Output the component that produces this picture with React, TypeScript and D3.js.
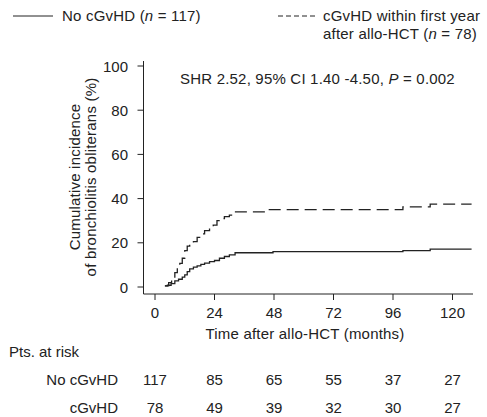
import React from 'react';
import * as d3 from 'd3';

// cumulative incidence steps (months, %)
const noCgvhdMonths = [4, 5, 6.5, 8, 9.5, 11, 12, 13, 14, 15.5, 17, 18.5, 20, 22, 24, 26, 28, 30, 32.3, 47.6, 100, 111, 127.7];
const noCgvhdValues = [0.5, 0.8, 1.5, 2.8, 3.5, 4.5, 5.5, 7, 8.2, 9, 9.6, 10.2, 10.8, 11.5, 12, 13, 13.8, 14.5, 15.5, 16, 16.5, 17.1, 17.1];
const cgvhdMonths = [4, 5.5, 6.7, 8, 9, 10, 11, 12, 13, 14, 15.5, 17, 18.5, 20, 22, 23.5, 25, 26.5, 28, 30, 31.6, 45, 100, 111, 127.7];
const cgvhdValues = [0.5, 2, 4, 6.5, 8.5, 10.7, 13, 16.5, 18.5, 20, 20.5, 22.5, 24, 25.5, 27, 28, 30, 31, 31.8, 32.5, 34, 35, 36.3, 37.5, 37.5];

const xTicks = [0, 24, 48, 72, 96, 120];
const yTicks = [0, 20, 40, 60, 80, 100];
const riskNo = [117, 85, 65, 55, 37, 27];
const riskCg = [78, 49, 39, 32, 30, 27];

const font = 'Liberation Sans, Arial, Helvetica, sans-serif';
const ink = '#222';
const fs = 15;

export default function App() {
  const x = d3.scaleLinear().domain([0, 120]).range([155, 452.5]);
  const y = d3.scaleLinear().domain([0, 100]).range([287, 66]);
  const line = d3
    .line<[number, number]>()
    .x((d) => x(d[0]))
    .y((d) => y(d[1]))
    .curve(d3.curveStepAfter);

  const noPts = noCgvhdMonths.map((m, i) => [m, noCgvhdValues[i]] as [number, number]);
  const cgPts = cgvhdMonths.map((m, i) => [m, cgvhdValues[i]] as [number, number]);

  const axisY = 294;
  const axisX = 143.5;

  return (
    <svg width={487} height={417} style={{ position: 'absolute', left: 0, top: 0, background: '#fff' }} fontFamily={font} fill={ink}>
      {/* legend */}
      <line x1={13} x2={53} y1={16} y2={16} stroke={ink} strokeWidth={1} />
      <text x={62} y={21} fontSize={fs} letterSpacing={0.2}>
        No cGvHD (<tspan fontStyle="italic">n</tspan> = 117)
      </text>
      <line x1={278} x2={318} y1={16} y2={16} stroke={ink} strokeWidth={1} strokeDasharray="5,3" />
      <text x={323} y={21} fontSize={fs} letterSpacing={0.2}>cGvHD within first year</text>
      <text x={323} y={39} fontSize={fs} letterSpacing={0.2}>
        after allo-HCT (<tspan fontStyle="italic">n</tspan> = 78)
      </text>

      {/* axes */}
      <line x1={axisX} x2={axisX} y1={61} y2={axisY} stroke={ink} />
      <line x1={axisX} x2={473} y1={axisY} y2={axisY} stroke={ink} />
      {yTicks.map((t) => (
        <g key={t}>
          <line x1={axisX - 6} x2={axisX} y1={y(t)} y2={y(t)} stroke={ink} />
          <text x={128} y={y(t)} fontSize={fs} textAnchor="end" dominantBaseline="central">
            {t}
          </text>
        </g>
      ))}
      {xTicks.map((t) => (
        <g key={t}>
          <line x1={x(t)} x2={x(t)} y1={axisY} y2={axisY + 6} stroke={ink} />
          <text x={x(t)} y={312} fontSize={fs} textAnchor="middle" dominantBaseline="central">
            {t}
          </text>
        </g>
      ))}
      <text x={305} y={333} fontSize={fs} textAnchor="middle" dominantBaseline="central" letterSpacing={0.2}>
        Time after allo-HCT (months)
      </text>
      <text transform="translate(74,177) rotate(-90)" fontSize={fs} textAnchor="middle" dominantBaseline="central" letterSpacing={0.2}>
        Cumulative incidence
      </text>
      <text transform="translate(90,177) rotate(-90)" fontSize={fs} textAnchor="middle" dominantBaseline="central" letterSpacing={0.2}>
        of bronchiolitis obliterans (%)
      </text>

      <text x={180} y={78} fontSize={fs} dominantBaseline="central" letterSpacing={0.2}>
        SHR 2.52, 95% CI 1.40 -4.50, <tspan fontStyle="italic">P</tspan> = 0.002
      </text>

      {/* curves */}
      <path d={line(noPts) ?? ''} fill="none" stroke={ink} strokeWidth={1.3} />
      <path d={line(cgPts) ?? ''} fill="none" stroke={ink} strokeWidth={1.3} strokeDasharray="12,6" />

      {/* patients at risk */}
      <text x={9} y={351} fontSize={fs} dominantBaseline="central">Pts. at risk</text>
      <text x={118} y={379} fontSize={fs} textAnchor="end" dominantBaseline="central">No cGvHD</text>
      <text x={118} y={407} fontSize={fs} textAnchor="end" dominantBaseline="central">cGvHD</text>
      {xTicks.map((t, i) => (
        <g key={'r' + t}>
          <text x={x(t)} y={379} fontSize={fs} textAnchor="middle" dominantBaseline="central">{riskNo[i]}</text>
          <text x={x(t)} y={407} fontSize={fs} textAnchor="middle" dominantBaseline="central">{riskCg[i]}</text>
        </g>
      ))}
    </svg>
  );
}
